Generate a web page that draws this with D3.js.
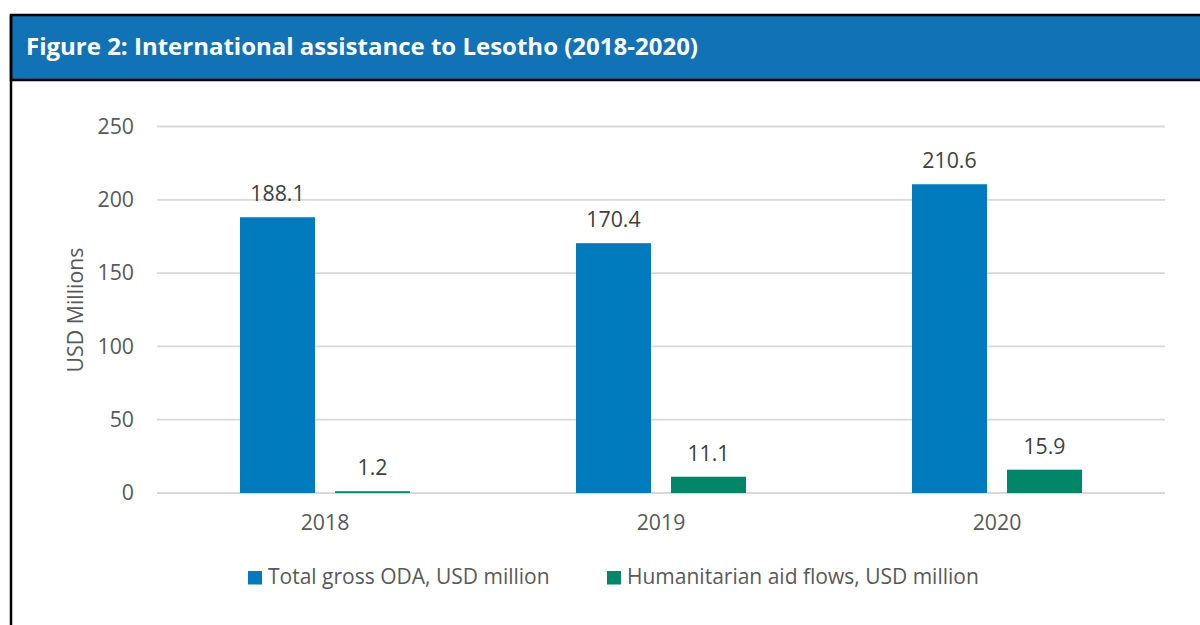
<!DOCTYPE html>
<html>
<head>
<meta charset="utf-8">
<script src="https://cdn.jsdelivr.net/npm/d3@7"></script>
<style>
  html, body { margin: 0; padding: 0; background: #fff; }
  svg { display: block; font-family: "Open Sans", sans-serif; }
</style>
</head>
<body>
<svg id="chart" width="1200" height="625"></svg>
<script>
// Figure data
const years = ["2018", "2019", "2020"];
const seriesNames = ["Total gross ODA, USD million", "Humanitarian aid flows, USD million"];
const totalODA = [188.1, 170.4, 210.6];
const humanitarian = [1.2, 11.1, 15.9];
const yTicks = [0, 50, 100, 150, 200, 250];
const seriesColors = ["#007bbe", "#00876a"];

const svg = d3.select("#chart");

// Figure frame and header band
svg.append("rect").attr("x", 11).attr("y", 15).attr("width", 1200).attr("height", 65)
  .attr("fill", "#1172b5").attr("stroke", "#000").attr("stroke-width", 2.5);
svg.append("line").attr("x1", 11).attr("x2", 11).attr("y1", 15).attr("y2", 625)
  .attr("stroke", "#000").attr("stroke-width", 2.5);
svg.append("text").attr("x", 26).attr("y", 55)
  .attr("fill", "#fff").attr("font-size", 24).attr("font-weight", 700)
  .text("Figure 2: International assistance to Lesotho (2018-2020)");

// Plot area
const plotLeft = 157, plotRight = 1165, plotTop = 126.5, plotBottom = 493;
const fs = 21.3;

const x = d3.scaleBand().domain(years).range([plotLeft, plotRight]);
const y = d3.scaleLinear().domain([0, 250]).range([plotBottom, plotTop]);

// Gridlines
svg.append("g").selectAll("line").data(yTicks).join("line")
  .attr("x1", plotLeft).attr("x2", plotRight)
  .attr("y1", d => y(d)).attr("y2", d => y(d))
  .attr("stroke", "#d9d9d9").attr("stroke-width", 1.8);

// Y axis tick labels
const yAxis = svg.append("g").attr("transform", `translate(${plotLeft},0)`)
  .call(d3.axisLeft(y).tickValues(yTicks).tickSize(0).tickPadding(23));
yAxis.select(".domain").remove();
yAxis.selectAll("text").attr("font-size", fs).attr("fill", "#595959")
  .attr("font-family", "'Open Sans', sans-serif");

// X axis labels
const xAxis = svg.append("g").attr("transform", `translate(0,${plotBottom})`)
  .call(d3.axisBottom(x).tickSize(0).tickPadding(22));
xAxis.select(".domain").remove();
xAxis.selectAll("text").attr("font-size", fs).attr("fill", "#595959")
  .attr("font-family", "'Open Sans', sans-serif");

// Y axis title
svg.append("text")
  .attr("transform", `translate(83,310) rotate(-90)`)
  .attr("text-anchor", "middle").attr("font-size", fs).attr("fill", "#595959")
  .text("USD Millions");

// Bars grouped by year
const x1 = d3.scaleBand().domain([0, 1]).range([0, 170]).paddingInner(20 / 95);
const groupOffset = (x.bandwidth() - 170) / 2;

const rows = years.map((yr, i) => ({ yr, vals: [totalODA[i], humanitarian[i]] }));

const groups = svg.append("g").selectAll("g").data(rows).join("g")
  .attr("transform", d => `translate(${x(d.yr) + groupOffset},0)`);

groups.selectAll("rect").data(d => d.vals.map((v, k) => ({ v, k }))).join("rect")
  .attr("x", d => x1(d.k))
  .attr("width", x1.bandwidth())
  .attr("y", d => y(d.v))
  .attr("height", d => y(0) - y(d.v))
  .attr("fill", d => seriesColors[d.k]);

groups.selectAll("text").data(d => d.vals.map((v, k) => ({ v, k }))).join("text")
  .attr("x", d => x1(d.k) + x1.bandwidth() / 2)
  .attr("y", d => y(d.v) - 16)
  .attr("text-anchor", "middle").attr("font-size", fs).attr("fill", "#404040")
  .text(d => d.v.toFixed(1));

// Legend
const legendX = [248, 607];
const legend = svg.append("g").selectAll("g").data(seriesNames).join("g")
  .attr("transform", (d, i) => `translate(${legendX[i]},571)`);
legend.append("rect").attr("width", 14).attr("height", 13.5)
  .attr("fill", (d, i) => seriesColors[i]);
legend.append("text").attr("x", 20).attr("y", 13)
  .attr("font-size", 21).attr("fill", "#595959").text(d => d);
</script>
</body>
</html>
